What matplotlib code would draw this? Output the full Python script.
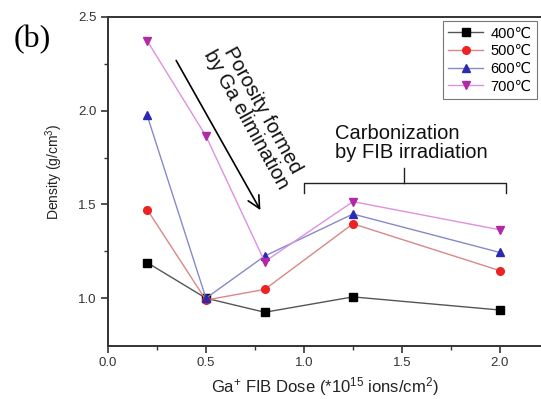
import numpy as np
import matplotlib
matplotlib.use("Agg")
import matplotlib.pyplot as plt

plt.rcParams['font.family'] = ['Liberation Sans', 'DejaVu Sans']
plt.rcParams['mathtext.fontset'] = 'custom'
plt.rcParams['mathtext.rm'] = 'Liberation Sans'
plt.rcParams['mathtext.it'] = 'Liberation Sans:italic'

# ion dose (x10^15 ions/cm2) and density (g/cm3) for each anneal temperature
dose = [0.2, 0.5, 0.8, 1.25, 2.0]
d400 = [1.19, 1.00, 0.925, 1.007, 0.937]
d500 = [1.473, 0.99, 1.047, 1.397, 1.147]
d600 = [1.975, 1.00, 1.225, 1.449, 1.244]
d700 = [2.373, 1.865, 1.195, 1.515, 1.365]
labels = ["400\u2103", "500\u2103", "600\u2103", "700\u2103"]

# series styles: marker, marker colour, line colour
styles = [("s", "#000000", "#555555"),
          ("o", "#ee2222", "#d88888"),
          ("^", "#2b2bb0", "#8888cc"),
          ("v", "#b02aa8", "#e090e0")]

fig = plt.figure(figsize=(5.41, 3.99), dpi=100)
ax = fig.add_axes([0.1996, 0.1328, 0.8004, 0.8246])

for ys, lab, (m, mc, lc) in zip([d400, d500, d600, d700], labels, styles):
    ax.plot(dose, ys, color=lc, lw=1.0, marker=m, markersize=5.5,
            markerfacecolor=mc, markeredgecolor=mc, label=lab)

ax.set_xlim(0, 2.21)
ax.set_ylim(0.745, 2.5)
ax.set_xticks([0.0, 0.5, 1.0, 1.5, 2.0])
ax.set_yticks([1.0, 1.5, 2.0, 2.5])
ax.set_xticks(np.arange(0.25, 2.2, 0.5), minor=True)
ax.set_yticks([1.25, 1.75, 2.25], minor=True)
ax.tick_params(which='major', direction='out', length=5, width=1.2,
               labelsize=9.5, colors='#333333', pad=3)
ax.tick_params(which='minor', direction='out', length=3, width=1.0,
               colors='#333333')
ax.spines['right'].set_visible(False)
for s in ['left', 'bottom', 'top']:
    ax.spines[s].set_linewidth(1.4)
    ax.spines[s].set_color('#333333')

ax.set_xlabel("Ga$^{+}$ FIB Dose (*10$^{15}$ ions/cm$^{2}$)", fontsize=12,
              color='#222222', labelpad=4)
ax.set_ylabel("Density (g/cm$^{3}$)", fontsize=10, color='#222222')
ax.yaxis.set_label_coords(-0.099, 0.53)

leg = ax.legend(loc='upper right', fontsize=10.5, frameon=True, fancybox=False,
                handlelength=2.4, labelspacing=0.25, borderpad=0.35,
                handletextpad=0.5, borderaxespad=0.3)
leg.get_frame().set_edgecolor('#555555')
leg.get_frame().set_linewidth(0.8)

# arrow + annotation for porosity
ax.annotate("", xy=(0.785, 1.457), xytext=(0.341, 2.281),
            arrowprops=dict(arrowstyle='->', lw=1.2, color='black',
                            mutation_scale=22))
ax.text(0.749, 1.976, "Porosity formed\nby Ga elimination", fontsize=14.5,
        rotation=-61, rotation_mode='anchor', ha='center', va='center',
        linespacing=1.0, color='#111111')

# bracket for carbonization
ax.plot([1.0, 1.0, 2.03, 2.03], [1.559, 1.612, 1.612, 1.559], color='#222222', lw=1.0)
ax.plot([1.513, 1.513], [1.612, 1.693], color='#222222', lw=1.0)
ax.text(1.16, 1.83, "Carbonization\nby FIB irradiation", fontsize=14.5,
        ha='left', va='center', linespacing=1.0, color='#111111')

fig.text(0.026, 0.9, "(b)", fontsize=23, family='Liberation Serif',
         ha='left', va='center')

fig.savefig("out.png", dpi=100)
